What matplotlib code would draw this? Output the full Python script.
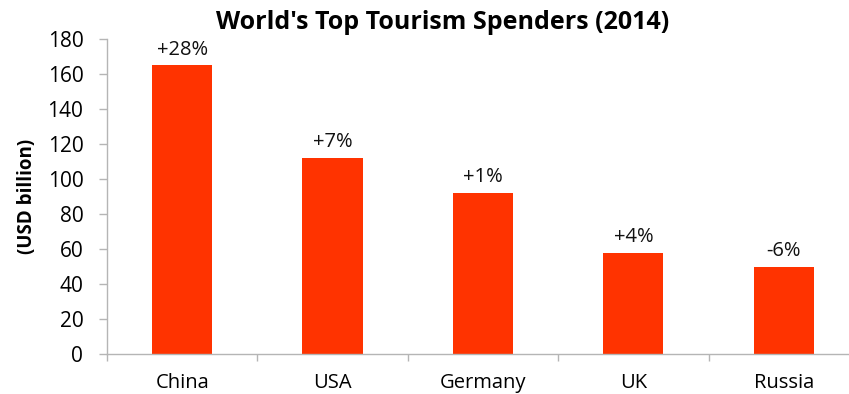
import matplotlib
matplotlib.use("Agg")
import matplotlib.pyplot as plt
import numpy as np

countries = ["China", "USA", "Germany", "UK", "Russia"]
spend = [165, 112, 92, 58, 50]
growth = ["+28%", "+7%", "+1%", "+4%", "-6%"]

plt.rcParams['font.family'] = ['Open Sans', 'DejaVu Sans']

fig = plt.figure(figsize=(8.49, 3.94), dpi=100)
ax = fig.add_axes([0.126, 0.1015, 0.8857, 0.7995])

x = np.arange(len(countries))
bars = ax.bar(x, spend, width=0.4, color='#ff3300')

# growth labels over each bar
for b, g in zip(bars, growth):
    ax.annotate(g, (b.get_x() + b.get_width() / 2, b.get_height()),
                xytext=(0, 4), textcoords='offset points',
                ha='center', va='bottom', fontsize=14.5, color='#111111')

ax.set_xlim(-0.5, len(countries) - 0.5)
ax.set_ylim(0, 180)
ax.set_yticks(range(0, 181, 20))
ax.tick_params(axis='y', labelsize=15, length=6, width=1, color='#b5b5b5', pad=11)

ax.set_xticks(x)
ax.set_xticklabels(countries)
ax.set_xticks(np.arange(-0.5, len(countries), 1.0), minor=True)
ax.tick_params(axis='x', which='major', length=0, labelsize=14.5, pad=14)
ax.tick_params(axis='x', which='minor', length=5, width=1, color='#b5b5b5')

for s in ['top', 'right']:
    ax.spines[s].set_visible(False)
for s in ['left', 'bottom']:
    ax.spines[s].set_color('#b5b5b5')
    ax.spines[s].set_linewidth(1)

ax.set_ylabel('(USD billion)', fontsize=13.5, fontweight='bold')
ax.yaxis.set_label_coords(-0.093, 0.5)
fig.text(0.521, 0.943, "World's Top Tourism Spenders (2014)", ha='center', va='center',
         fontsize=18, fontweight='bold')

fig.savefig('out.png', dpi=100)
